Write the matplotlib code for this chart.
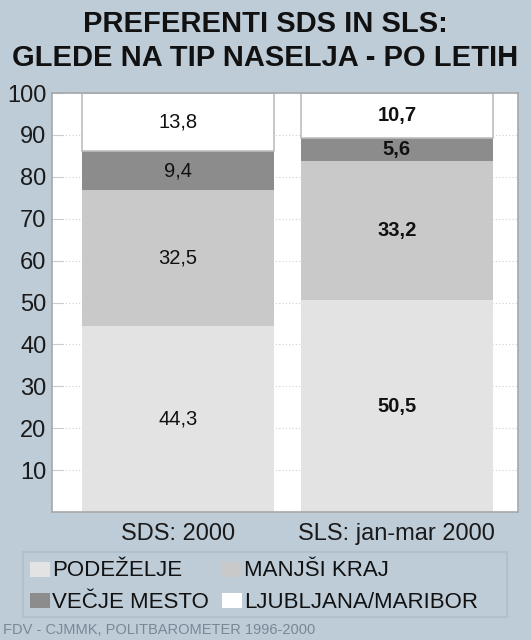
import matplotlib
matplotlib.use("Agg")
import matplotlib.pyplot as plt
from matplotlib.patches import Rectangle
import numpy as np

plt.rcParams['font.family'] = ['Liberation Sans', 'DejaVu Sans']

categories = ["SDS: 2000", "SLS: jan-mar 2000"]
series_names = ["PODEŽELJE", "MANJŠI KRAJ", "VEČJE MESTO", "LJUBLJANA/MARIBOR"]
podezelje = [44.3, 50.5]
manjsi_kraj = [32.5, 33.2]
vecje_mesto = [9.4, 5.6]
ljubljana_maribor = [13.8, 10.7]
series = [podezelje, manjsi_kraj, vecje_mesto, ljubljana_maribor]
colors = ["#E3E3E3", "#C9C9C9", "#8C8C8C", "#FFFFFF"]
yticks = [10, 20, 30, 40, 50, 60, 70, 80, 90, 100]
title = "PREFERENTI SDS IN SLS:\nGLEDE NA TIP NASELJA - PO LETIH"
footer = "FDV - CJMMK, POLITBAROMETER 1996-2000"

BG = "#BECCD8"
W, H = 531, 640
fig = plt.figure(figsize=(W/100, H/100), dpi=100, facecolor=BG)

ax = fig.add_axes([52/W, 1-512/H, (518-52)/W, (512-93)/H])
ax.set_facecolor("white")
x = np.arange(len(categories))
bottom = np.zeros(len(categories))
for vals, col in zip(series, colors):
    ax.bar(x, vals, width=0.877, bottom=bottom, color=col,
           edgecolor="#BDBDBD" if col == "#FFFFFF" else "none", linewidth=1.2, zorder=2)
    for i, v in enumerate(vals):
        ax.text(x[i], bottom[i] + v/2, f"{v:.1f}".replace(".", ","),
                ha="center", va="center", fontsize=14.5,
                fontweight="bold" if i == 1 else "normal", color="#111111", zorder=3)
    bottom += np.array(vals)

ax.set_xlim(-0.575, 1.553)
ax.set_ylim(0, 100)
ax.set_yticks(yticks)
ax.set_yticklabels([str(t) for t in yticks], fontsize=17, color="#1a1a1a")
ax.tick_params(axis="y", direction="in", length=8, color="#CCCCCC", width=0.8, pad=4)
ax.set_xticks(x)
ax.set_xticklabels(categories, fontsize=17, color="#1a1a1a")
ax.tick_params(axis="x", length=0, pad=8)
ax.grid(axis="y", color="#D0D0D0", linestyle=(0, (1, 2)), linewidth=0.8, zorder=1)
for s in ax.spines.values():
    s.set_color("#A8A8A8")
    s.set_linewidth(1.2)

fig.text(0.5, 1-24/H, title.split("\n")[0], ha="center", va="center", fontsize=21,
         fontweight="bold", color="#111111")
fig.text(0.5, 1-58/H, title.split("\n")[1], ha="center", va="center", fontsize=21,
         fontweight="bold", color="#111111")

# legend box
fig.patches.append(Rectangle((23/W, 1-617/H), (507-23)/W, (617-552)/H,
                             transform=fig.transFigure, facecolor=BG,
                             edgecolor="#B2C0CC", linewidth=1.5))
legend_pos = [(30, 569), (222, 569), (30, 600), (222, 600)]
for name, col, (lx, ly) in zip(series_names, colors, legend_pos):
    fig.patches.append(Rectangle((lx/W, 1-(ly+7.5)/H), 20/W, 15/H,
                                 transform=fig.transFigure, facecolor=col,
                                 edgecolor="none"))
    fig.text((lx+22)/W, 1-(ly+2)/H, name, ha="left", va="center",
             fontsize=16, color="#111111")

fig.text(3/W, 1-630/H, footer, ha="left", va="center", fontsize=10.5,
         color="#7A8896")

fig.savefig("out.png", dpi=100, facecolor=BG)
